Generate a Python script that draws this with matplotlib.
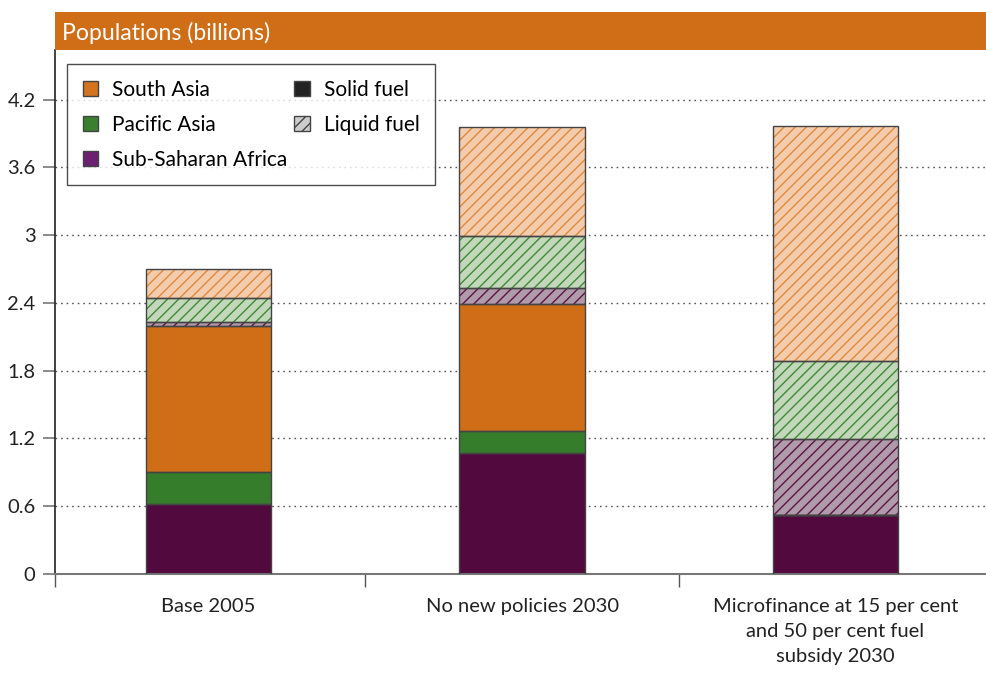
import matplotlib
matplotlib.use("Agg")
import matplotlib.pyplot as plt
from matplotlib.patches import Patch, Rectangle

plt.rcParams["font.family"] = ["Lato", "DejaVu Sans"]
plt.rcParams["hatch.linewidth"] = 1.0

# Scenarios shown along the x axis
categories = [
    "Base 2005",
    "No new policies 2030",
    "Microfinance at 15 per cent\nand 50 per cent fuel\nsubsidy 2030",
]

# Populations (billions) relying on solid fuels, by region
solid_ssa = [0.62, 1.07, 0.52]
solid_pacific = [0.28, 0.195, 0.0]
solid_south = [1.295, 1.125, 0.0]

# Populations (billions) using liquid fuels, by region
liquid_ssa = [0.035, 0.14, 0.675]
liquid_pacific = [0.21, 0.46, 0.69]
liquid_south = [0.26, 0.97, 2.085]

yticks = [0, 0.6, 1.2, 1.8, 2.4, 3.0, 3.6, 4.2]
ytick_labels = ["0", "0.6", "1.2", "1.8", "2.4", "3", "3.6", "4.2"]

ORANGE = "#D06E18"
GREEN = "#367D2B"
PURPLE_DARK = "#520A3E"
EDGE = "#444444"

fig = plt.figure(figsize=(9.86, 6.73), dpi=100)
ax = fig.add_axes([55 / 986, (673 - 574) / 673, 1 - 55 / 986, (574 - 50) / 673])

x = list(range(len(categories)))
width = 0.40

segments = [
    (solid_ssa, PURPLE_DARK, None, None),
    (solid_pacific, GREEN, None, None),
    (solid_south, ORANGE, None, None),
    (liquid_ssa, "#B09BAA", "///", "#5C1347"),
    (liquid_pacific, "#C3D8BA", "///", "#3E8A38"),
    (liquid_south, "#F3CCAE", "///", "#E0893A"),
]

bottom = [0.0] * len(categories)
for values, fill, hatch, hatch_col in segments:
    if hatch:
        ax.bar(x, values, width, bottom=bottom, color=fill, hatch=hatch,
               edgecolor=hatch_col, linewidth=0, zorder=2)
    else:
        ax.bar(x, values, width, bottom=bottom, color=fill, linewidth=0, zorder=2)
    ax.bar(x, values, width, bottom=bottom, fill=False, edgecolor=EDGE,
           linewidth=1.0, zorder=3)
    bottom = [b + v for b, v in zip(bottom, values)]

x_left, x_right = -0.49, 2.48
ax.set_xlim(x_left, x_right)
ax.set_ylim(0, 4.64)

# Y axis
ax.set_yticks(yticks)
ax.set_yticklabels(ytick_labels, fontsize=14.5, color="#222222")
ax.tick_params(axis="y", length=9, width=1.2, color="#777777", pad=5)
ax.yaxis.grid(True, linestyle=(0, (1.2, 2.8)), color="#555555", linewidth=1.0, zorder=0)
ax.set_axisbelow(True)

# X axis: separators as major ticks, scenario labels as minor ticks
ax.set_xticks([x_left, 0.5, 1.5])
ax.set_xticklabels([])
ax.tick_params(axis="x", which="major", length=9, width=1.0, color="#555555")
ax.set_xticks(x, minor=True)
ax.set_xticklabels(categories, minor=True, fontsize=14.5, color="#222222",
                   linespacing=1.6)
ax.tick_params(axis="x", which="minor", length=0, pad=17)

for side in ("top", "right"):
    ax.spines[side].set_visible(False)
ax.spines["left"].set_color("#222222")
ax.spines["left"].set_linewidth(1.2)
ax.spines["bottom"].set_color("#777777")
ax.spines["bottom"].set_linewidth(1.5)

# Header band
fig.patches.append(Rectangle((55 / 986, 1 - 50 / 673), 1 - 55 / 986, 38 / 673,
                             transform=fig.transFigure, facecolor=ORANGE,
                             edgecolor="none"))
fig.text(62 / 986, 1 - 33 / 673, "Populations (billions)", color="white",
         fontsize=16.6, va="center", ha="left")

# Legend
handles = [
    Patch(facecolor="#D4741F", edgecolor=EDGE, label="South Asia"),
    Patch(facecolor="#3A7F30", edgecolor=EDGE, label="Pacific Asia"),
    Patch(facecolor="#6B2170", edgecolor=EDGE, label="Sub-Saharan Africa"),
    Patch(facecolor="#222222", edgecolor=EDGE, label="Solid fuel"),
    Patch(facecolor="#CCCCCC", edgecolor=EDGE, hatch="///", label="Liquid fuel"),
]
leg = fig.legend(handles=handles, ncol=2, loc="upper left",
                 bbox_to_anchor=(67 / 986, 1 - 64 / 673), borderaxespad=0,
                 fontsize=15, frameon=True, fancybox=False, edgecolor="#222222",
                 handlelength=0.75, handleheight=0.75, handletextpad=0.65,
                 columnspacing=0.35, labelspacing=0.72, borderpad=0.75)
leg.get_frame().set_linewidth(1.0)

fig.savefig("out.png", dpi=100)
